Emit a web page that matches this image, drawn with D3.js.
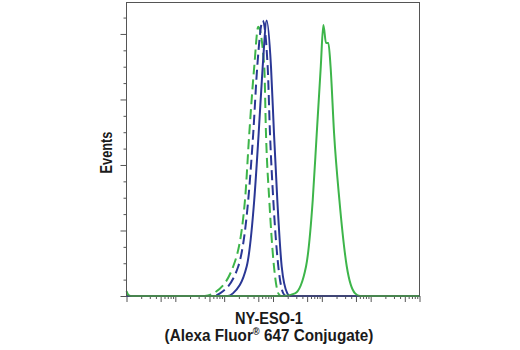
<!DOCTYPE html>
<html>
<head>
<meta charset="utf-8">
<script src="https://cdn.jsdelivr.net/npm/d3@7"></script>
<style>
  html, body { margin: 0; padding: 0; background: #fff; }
  svg { display: block; }
  .lbl { font-family: "Liberation Sans", Arial, "Helvetica", sans-serif; font-weight: bold; fill: #1a1a1a; }
</style>
</head>
<body>
<svg id="chart" width="520" height="350"></svg>
<script>
// ---- data (fluorescence intensity, events) ----
const xDomain = [1, 1e6];
const yDomain = [0, 89.6];
const yMajorTicks = [0, 20, 40, 60, 80];
const yMinorTicks = [5, 10, 15, 25, 30, 35, 45, 50, 55, 65, 70, 75, 85];

const greenDashed = [
  [1, 0], [40, 0], [60, 0.8], [153, 9.0], [267, 29.3], [327, 49.7], [413, 70.0],
  [499, 82.2], [662, 70.0], [718, 49.7], [839, 29.3], [1047, 9.0], [1285, 0.8], [1459, 0], [1e6, 0]
];
const blueDashed = [
  [1, 0], [56, 0], [82, 0.8], [194, 9.0], [311, 29.3], [394, 49.7], [476, 70.0],
  [615, 84.1], [778, 70.0], [867, 49.7], [1014, 29.3], [1285, 9.0], [1626, 0.8], [1846, 0], [1e6, 0]
];
const blueSolid = [
  [1, 0], [119, 0], [151, 0.8], [289, 9.0], [413, 29.3], [509, 49.7], [615, 70.0],
  [743, 84.1], [910, 70.0], [1047, 49.7], [1225, 29.3], [1507, 9.0], [1963, 0.8], [2228, 0], [1e6, 0]
];
const greenSolid = [
  [1, 1.5], [1.1, 0.3], [1.3, 0], [1603, 0], [2825, 0.8], [4745, 9.0], [6515, 29.3], [7870, 49.7],
  [9510, 70.0], [10740, 82.7], [12210, 77.2], [13610, 77.2], [15100, 70.0], [17810, 49.7],
  [22880, 29.3], [32420, 9.0], [47960, 0.8], [60800, 0], [1e6, 0]
];
const series = [
  { name: "control dashed green", data: greenDashed, color: "#3db54a", dash: "10,5" },
  { name: "control dashed blue", data: blueDashed, color: "#2a3795", dash: "10,5" },
  { name: "blue solid", data: blueSolid, color: "#2a3795", dash: null },
  { name: "green solid", data: greenSolid, color: "#3db54a", dash: null }
];
const xTitle = "NY-ESO-1";
const xTitle2a = "(Alexa Fluor";
const xTitle2sup = "®";
const xTitle2b = " 647 Conjugate)";
const yTitle = "Events";

// ---- layout ----
const svg = d3.select("#chart");
const L = 126.5, R = 419.5, T = 2.5, B = 296;
const x = d3.scaleLog().domain(xDomain).range([L, R]);
const y = d3.scaleLinear().domain(yDomain).range([B, T]);

// x ticks: all log ticks; decades and 5s longer
const xTicks = [];
for (let e = 0; e < 6; e++) for (let k = 1; k < 10; k++) xTicks.push(k * Math.pow(10, e));
xTicks.push(1e6);
const xMajor = xTicks.filter(v => { const m = v / Math.pow(10, Math.floor(Math.log10(v) + 1e-9)); return Math.abs(m - 1) < 1e-6 || Math.abs(m - 5) < 1e-6; });
const xMinor = xTicks.filter(v => !xMajor.includes(v));

const axisColor = "#555";
const gx1 = svg.append("g").attr("transform", `translate(0,${B})`)
  .call(d3.axisBottom(x).tickValues(xMajor).tickSize(6).tickFormat(""));
const gx2 = svg.append("g").attr("transform", `translate(0,${B})`)
  .call(d3.axisBottom(x).tickValues(xMinor).tickSize(3).tickFormat(""));
const gy1 = svg.append("g").attr("transform", `translate(${L},0)`)
  .call(d3.axisLeft(y).tickValues(yMajorTicks).tickSize(6).tickFormat(""));
const gy2 = svg.append("g").attr("transform", `translate(${L},0)`)
  .call(d3.axisLeft(y).tickValues(yMinorTicks).tickSize(3).tickFormat(""));
[gx1, gx2, gy1, gy2].forEach(g => {
  g.select(".domain").remove();
  g.selectAll("line").attr("stroke", axisColor).attr("stroke-width", 1);
});

// curves
const line = d3.line().x(d => x(d[0])).y(d => y(d[1])).curve(d3.curveMonotoneX);
svg.append("g").selectAll("path").data(series).join("path")
  .attr("d", d => line(d.data))
  .attr("fill", "none")
  .attr("stroke", d => d.color)
  .attr("stroke-width", 2)
  .attr("stroke-dasharray", d => d.dash);

// frame
svg.append("rect").attr("x", L).attr("y", T).attr("width", R - L).attr("height", B - T)
  .attr("fill", "none").attr("stroke", axisColor).attr("stroke-width", 1);

// titles: condensed look by horizontal scaling to the reference widths
function condensed(sel, cx, cy, targetW, rotate) {
  const w = sel.node().getBBox().width;
  const s = targetW / w;
  sel.attr("x", 0).attr("y", 0).attr("text-anchor", "middle")
     .attr("transform", `translate(${cx},${cy})${rotate ? " rotate(-90)" : ""} scale(${s},1)`);
}
const fs = 16.5;
const t1 = svg.append("text").attr("class", "lbl").attr("font-size", fs).text(xTitle);
condensed(t1, 269, 323.5, 68);
const t2 = svg.append("text").attr("class", "lbl").attr("font-size", fs);
t2.append("tspan").text(xTitle2a);
t2.append("tspan").attr("font-size", 10).attr("dy", -6).text(xTitle2sup);
t2.append("tspan").attr("dy", 6).text(xTitle2b);
condensed(t2, 269, 341, 209);
const t3 = svg.append("text").attr("class", "lbl").attr("font-size", fs).text(yTitle);
condensed(t3, 111.5, 152.5, 42, true);
</script>
</body>
</html>
